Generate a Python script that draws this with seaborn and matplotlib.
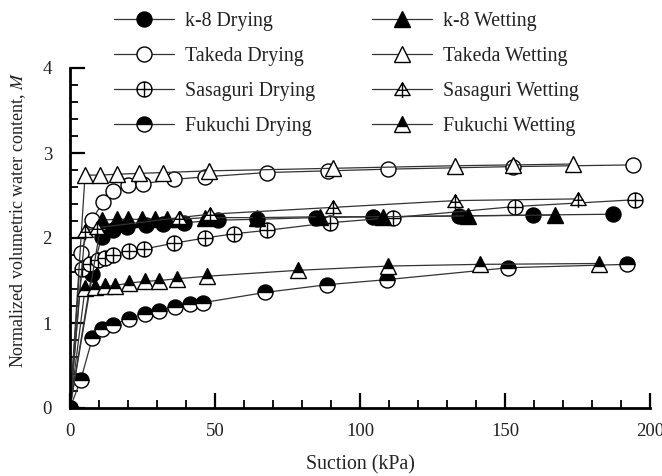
import numpy as np
import pandas as pd
import matplotlib
matplotlib.use('Agg')
import matplotlib.pyplot as plt
import seaborn as sns
from matplotlib.path import Path
from matplotlib.ticker import MultipleLocator

# ---------------- data ----------------
k8_dry_x = [0, 7.5, 10.9, 14.9, 19.5, 26.1, 32, 39.4, 51.1, 64.4, 84.8, 104.6, 134, 159.8, 187.4]
k8_dry_y = [0, 1.58, 2.01, 2.09, 2.13, 2.15, 2.16, 2.18, 2.21, 2.22, 2.24, 2.25, 2.26, 2.27, 2.28]

takeda_dry_x = [0, 3.7, 7.5, 11.3, 14.7, 19.9, 25.3, 36, 46.6, 67.8, 89, 109.8, 152.9, 194.3]
takeda_dry_y = [0, 1.82, 2.21, 2.42, 2.55, 2.62, 2.64, 2.69, 2.72, 2.77, 2.79, 2.81, 2.84, 2.86]

sasaguri_dry_x = [0, 4, 6.9, 9.8, 12.1, 14.9, 20.4, 25.4, 36, 46.6, 56.6, 67.9, 89.7, 111.5, 153.4, 194.8]
sasaguri_dry_y = [0, 1.63, 1.70, 1.74, 1.77, 1.80, 1.85, 1.87, 1.94, 2.00, 2.05, 2.09, 2.18, 2.24, 2.37, 2.45]

fukuchi_dry_x = [0, 3.7, 7.7, 11.1, 14.9, 20.4, 25.9, 30.7, 36.2, 41.4, 46, 67.4, 88.5, 109.2, 151.1, 192]
fukuchi_dry_y = [0, 0.33, 0.82, 0.93, 0.98, 1.05, 1.11, 1.14, 1.19, 1.22, 1.24, 1.36, 1.45, 1.51, 1.65, 1.69]

k8_wet_x = [0, 10.9, 16.1, 20.1, 24.7, 29.3, 33.3, 37.9, 46.6, 64.4, 86.2, 108, 137.4, 167.2]
k8_wet_y = [0, 2.21, 2.22, 2.22, 2.22, 2.22, 2.22, 2.22, 2.24, 2.24, 2.25, 2.25, 2.26, 2.27]

takeda_wet_x = [0, 5.2, 10.3, 16.1, 23.8, 32, 48, 90.6, 132.8, 152.9, 173.5]
takeda_wet_y = [0, 2.74, 2.74, 2.75, 2.76, 2.77, 2.79, 2.82, 2.85, 2.86, 2.87]

sasaguri_wet_x = [0, 5.2, 9.2, 37.7, 48.3, 90.6, 132.8, 175]
sasaguri_wet_y = [0, 2.08, 2.12, 2.24, 2.28, 2.36, 2.44, 2.46]

fukuchi_wet_x = [0, 5.2, 8.6, 12.1, 15.5, 20.4, 25.9, 30.8, 36.8, 47.2, 78.7, 109.8, 141.4, 182.5]
fukuchi_wet_y = [0, 1.41, 1.42, 1.43, 1.44, 1.47, 1.49, 1.50, 1.52, 1.55, 1.62, 1.67, 1.69, 1.70]

labels = ["k-8 Drying", "Takeda Drying", "Sasaguri Drying", "Fukuchi Drying",
          "k-8 Wetting", "Takeda Wetting", "Sasaguri Wetting", "Fukuchi Wetting"]

# ---------------- custom markers ----------------
circ_plus = Path.make_compound_path(
    Path.unit_circle(),
    Path([[-1, 0], [1, 0]], [Path.MOVETO, Path.LINETO]),
    Path([[0, -1], [0, 1]], [Path.MOVETO, Path.LINETO]),
)
tri_plus = Path.make_compound_path(
    Path([[0, 0.8], [-0.92, -0.72], [0.92, -0.72], [0, 0.8]],
         [Path.MOVETO, Path.LINETO, Path.LINETO, Path.CLOSEPOLY]),
    Path([[0, 0.8], [0, -1.0]], [Path.MOVETO, Path.LINETO]),
    Path([[-0.6, -0.1], [0.6, -0.1]], [Path.MOVETO, Path.LINETO]),
)

LINE = '#333333'
styles = [
    dict(marker='o', ms=10.8, mfc='black', fs='full'),
    dict(marker='o', ms=10.8, mfc='white', fs='full'),
    dict(marker=circ_plus, ms=10.8, mfc='white', fs='full'),
    dict(marker='o', ms=10.8, mfc='black', fs='top'),
    dict(marker='^', ms=11, mfc='black', fs='full'),
    dict(marker='^', ms=11, mfc='white', fs='full'),
    dict(marker=tri_plus, ms=12, mfc='white', fs='full'),
    dict(marker='^', ms=11, mfc='black', fs='top'),
]
xs = [k8_dry_x, takeda_dry_x, sasaguri_dry_x, fukuchi_dry_x,
      k8_wet_x, takeda_wet_x, sasaguri_wet_x, fukuchi_wet_x]
ys = [k8_dry_y, takeda_dry_y, sasaguri_dry_y, fukuchi_dry_y,
      k8_wet_y, takeda_wet_y, sasaguri_wet_y, fukuchi_wet_y]

sns.set_theme(style='ticks')
plt.rcParams['font.family'] = ['Liberation Serif', 'DejaVu Serif']
plt.rcParams['mathtext.fontset'] = 'stix'
FS = 13.5
LFS = 14.3

fig = plt.figure(figsize=(6.62, 4.76), dpi=100)
ax = fig.add_axes([70 / 662, 1 - 408 / 476, 580 / 662, 340 / 476])

handles = []
for lab, x, y, st in zip(labels, xs, ys, styles):
    df = pd.DataFrame({'x': x, 'y': y})
    sns.lineplot(data=df, x='x', y='y', ax=ax, sort=False, estimator=None,
                 color=LINE, linewidth=0.9, marker=st['marker'], markersize=st['ms'],
                 markerfacecolor=st['mfc'], markerfacecoloralt='white',
                 fillstyle=st['fs'], markeredgecolor='black', markeredgewidth=1.0,
                 legend=False)
    handles.append(ax.get_lines()[-1])

ax.set_xlim(0, 200)
ax.set_ylim(0, 4)
ax.xaxis.set_major_locator(MultipleLocator(50))
ax.xaxis.set_minor_locator(MultipleLocator(10))
ax.yaxis.set_major_locator(MultipleLocator(1))
ax.yaxis.set_minor_locator(MultipleLocator(0.2))
ax.tick_params(which='major', direction='in', length=11, width=1.6, colors='black',
               labelsize=FS, pad=11, labelcolor='#222222')
ax.tick_params(which='minor', direction='in', length=6, width=1.3, colors='black')
ax.tick_params(axis='y', which='major', pad=13)
for s in ['top', 'right']:
    ax.spines[s].set_visible(False)
for s in ['left', 'bottom']:
    ax.spines[s].set_linewidth(2)
    ax.spines[s].set_color('black')

ax.set_xlabel('Suction (kPa)', fontsize=LFS, labelpad=11, color='#222222')
ax.set_ylabel('Normalized volumetric water content, $M$', fontsize=13, color='#222222')
ax.yaxis.set_label_coords(-0.072, 0.553)

fig.legend(handles, labels, ncol=2, loc='upper left',
           bbox_to_anchor=(114 / 662, 1 - 12 / 476), frameon=False, fontsize=LFS,
           handlelength=3.0, handletextpad=0.55, columnspacing=2.9,
           labelspacing=0.8, borderpad=0, borderaxespad=0, numpoints=1,
           labelcolor='#222222')

fig.savefig('out.png', dpi=100, facecolor='white')
